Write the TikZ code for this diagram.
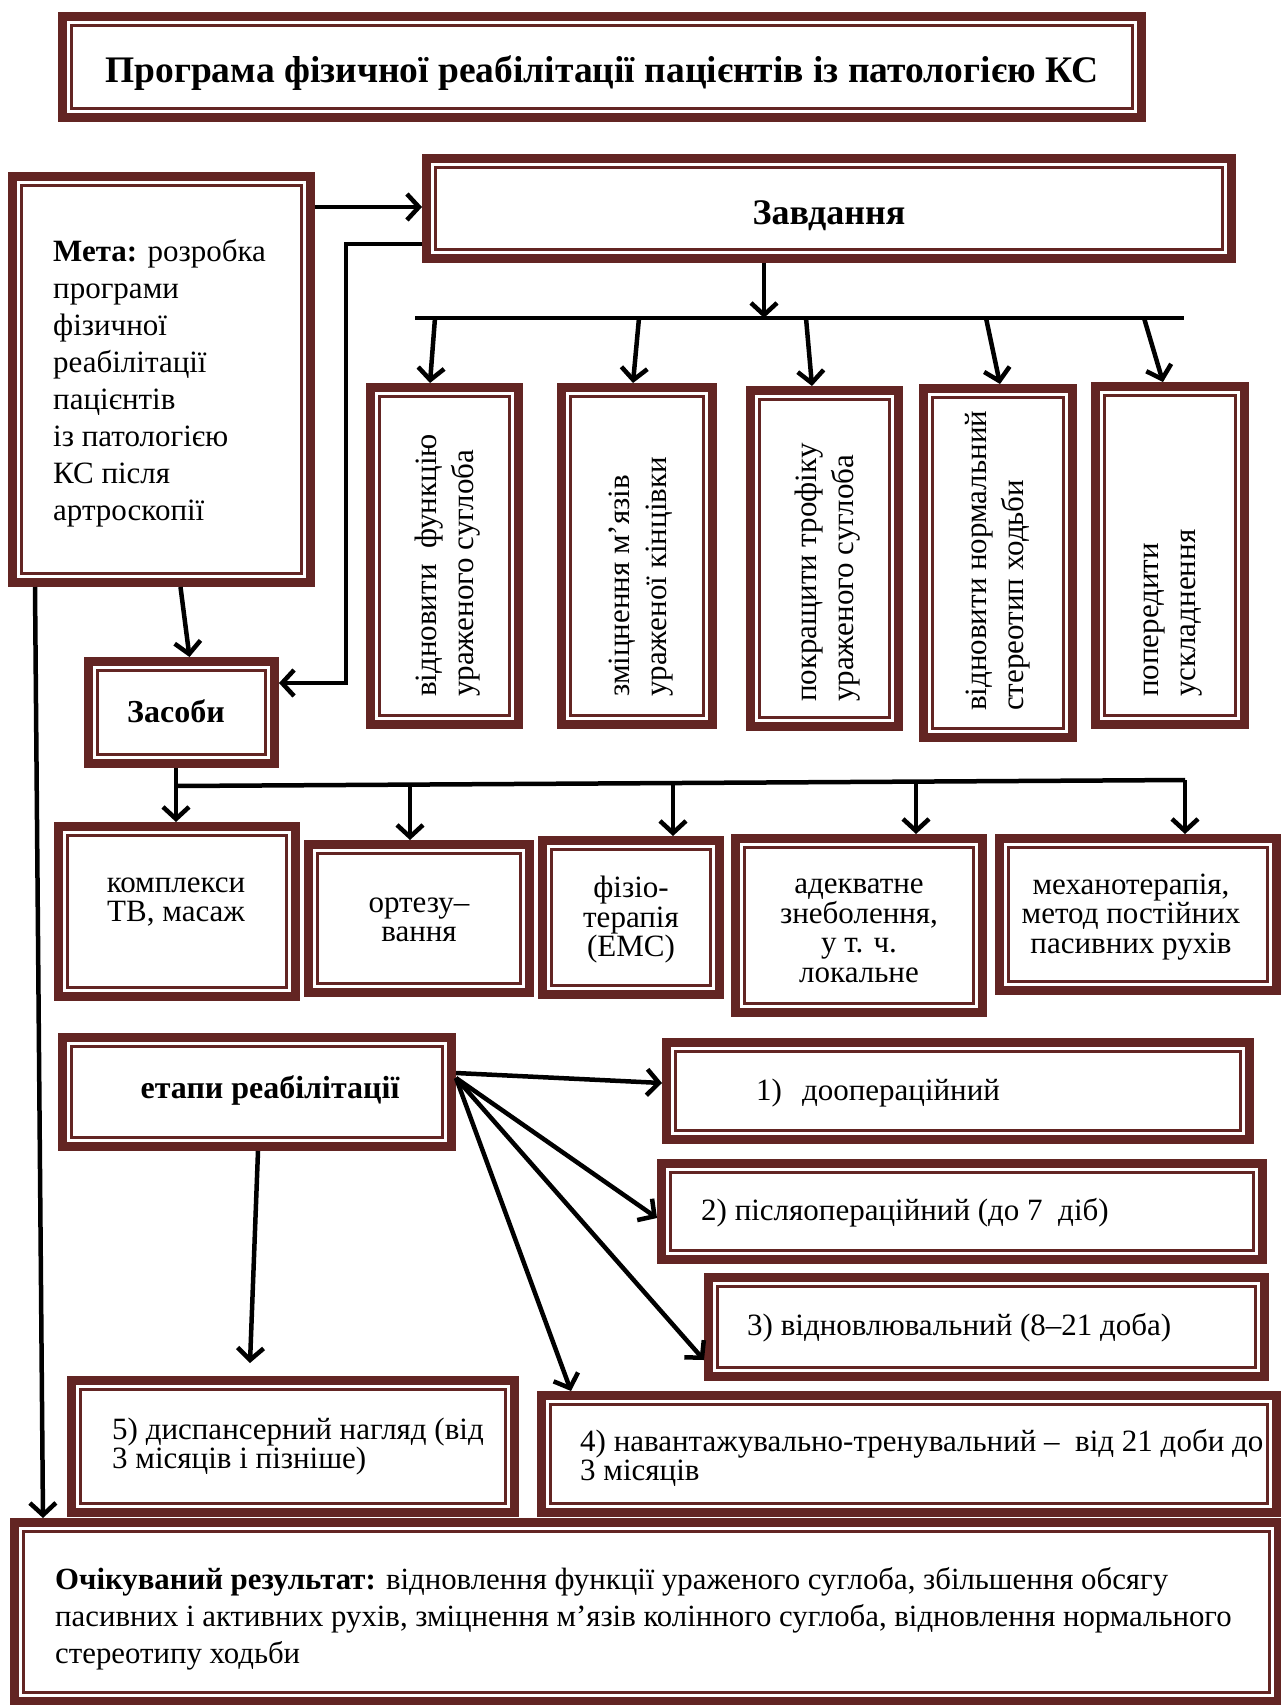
\documentclass[tikz,border=0pt]{standalone}
\usepackage{fontspec}
\setmainfont{Liberation Serif}
\usetikzlibrary{arrows.meta,fit}
\definecolor{wine}{RGB}{99,37,35}
\tikzset{
  box/.style={draw=wine, line width=9pt, fill=white, inner sep=-4.5pt,
    path picture={\draw[wine, line width=2.5pt]
      ([shift={(9pt,-9pt)}]path picture bounding box.north west) rectangle
      ([shift={(-9pt,9pt)}]path picture bounding box.south east);}},
  txt/.style={inner sep=0pt, align=left, font=\fontsize{31pt}{37pt}\selectfont},
  ctr/.style={inner sep=0pt, align=center, font=\fontsize{31pt}{29.5pt}\selectfont},
  hd/.style={inner sep=0pt, font=\fontsize{32pt}{36pt}\selectfont\bfseries},
  ln/.style={line width=4.5pt},
  arr/.style={line width=4.5pt, -{Straight Barb[length=12pt,width=26pt]}},
}
\begin{document}
\begin{tikzpicture}[x=1pt, y=-1pt]
\useasboundingbox (0,0) rectangle (1281,1705);
% head, goal, tasks
\node[box, fit={(58,12) (1146,122)}] (title) {};
\node[hd, font=\fontsize{37.5pt}{44pt}\selectfont\bfseries] (titlet) at (602,73) {Програма фізичної реабілітації пацієнтів із патологією КС};
\node[box, fit={(8,172) (315,587)}] (meta) {};
\node[txt, anchor=west] (metat) at (53,383) {\textbf{Мета:} розробка\\програми\\фізичної\\реабілітації\\пацієнтів\\із патологією\\КС після\\артроскопії};
\node[box, fit={(422,154) (1236,263)}] (zav) {};
\node[hd, font=\fontsize{36pt}{40pt}\selectfont\bfseries] (zavt) at (829,216) {Завдання};
\node[box, fit={(366,383) (523,729)}] (v1) {};
\node[box, fit={(557,383) (717,729)}] (v2) {};
\node[box, fit={(746,386) (903,731)}] (v3) {};
\node[box, fit={(919,384) (1077,742)}] (v4) {};
\node[box, fit={(1091,382) (1249,729)}] (v5) {};
\node[txt, rotate=90, anchor=west] (v1t) at (448,697) {відновити\ \ функцію\\ураженого суглоба};
\node[txt, rotate=90, anchor=west] (v2t) at (641,697) {зміцнення м’язів\\ураженої кінцівки};
\node[txt, rotate=90, anchor=west] (v3t) at (828,702) {покращити трофіку\\ураженого суглоба};
\node[txt, rotate=90, anchor=west] (v4t) at (998,711) {відновити нормальний\\стереотип ходьби};
\node[txt, rotate=90, anchor=west] (v5t) at (1173,697) {попередити\\ускладнення};
% means
\node[box, fit={(84,657) (279,768)}] (zasoby) {};
\node[hd] (zasobyt) at (176,711) {Засоби};
\node[box, fit={(54,822) (300,1001)}] (ka) {};
\node[box, fit={(304,840) (534,997)}] (ort) {};
\node[box, fit={(538,836) (724,999)}] (fiz) {};
\node[box, fit={(731,834) (987,1017)}] (zneb) {};
\node[box, fit={(995,834) (1281,995)}] (mex) {};
\node[ctr] (kat) at (176,902) {комплекси\\ТВ, масаж};
\node[ctr] (ortt) at (419,920) {ортезу–\\вання};
\node[ctr] (fizt) at (631,920) {фізіо-\\терапія\\(ЕМС)};
\node[ctr] (znebt) at (859,931) {адекватне\\знеболення,\\у т. ч.\\локальне};
\node[ctr] (mext) at (1131,917) {механотерапія,\\метод постійних\\пасивних рухів};
% stages
\node[box, fit={(58,1033) (456,1151)}] (etapy) {};
\node[hd] (etapyt) at (270,1090) {етапи реабілітації};
\node[box, fit={(662,1038) (1254,1144)}] (st1) {};
\node[box, fit={(657,1159) (1267,1264)}] (st2) {};
\node[box, fit={(704,1273) (1269,1381)}] (st3) {};
\node[box, fit={(537,1391) (1281,1517)}] (st4) {};
\node[box, fit={(67,1376) (519,1517)}] (st5) {};
\node[txt, anchor=west] (st1t) at (756,1093) {1)\hspace{20pt}доопераційний};
\node[txt, anchor=west] (st2t) at (701,1213) {2) післяопераційний (до 7\ \ діб)};
\node[txt, anchor=west] (st3t) at (747,1328) {3) відновлювальний (8–21 доба)};
\node[txt, anchor=west, font=\fontsize{31pt}{29pt}\selectfont] (st4t) at (580,1458) {4) навантажувально-тренувальний –\ \ від 21 доби до\\3 місяців};
\node[txt, anchor=west, font=\fontsize{31pt}{29pt}\selectfont] (st5t) at (112,1447) {5) диспансерний нагляд (від\\3 місяців і пізніше)};
% result
\node[box, fit={(10,1518) (1283,1706)}] (res) {};
\node[txt, anchor=west, font=\fontsize{30.8pt}{37pt}\selectfont] (rest) at (55,1619) {\textbf{Очікуваний результат:} відновлення функції ураженого суглоба, збільшення обсягу\\пасивних і активних рухів, зміцнення м’язів колінного суглоба, відновлення нормального\\стереотипу ходьби};
% connectors
\draw[arr] (meta.east |- 0,207) -- (zav.west |- 0,207);
\draw[arr] (zav.west |- 0,244) -- (346,244) -- (346,683) -- (zasoby.east |- 0,683);
\draw[arr] ([xshift=19pt]meta.south) -- ([xshift=8pt]zasoby.north);
\draw[arr] ([xshift=27pt]meta.south west) -- ([xshift=33pt]res.north west);
\draw[ln] (415,318) -- (1184,318);
\draw[arr] (764,0 |- zav.south) -- (764,318);
\foreach \i/\a/\b in {1/435/430,2/639/633,3/806/812,4/986/1000,5/1144/1163}
  \draw[arr] (\a,318) -- (\b,0 |- v\i.north);
\draw[ln] (176,786) -- (1185,780);
\draw[arr] (176,0 |- zasoby.south) -- (176,0 |- ka.north);
\foreach \n/\a/\y in {ort/410/784.6,fiz/673/783,zneb/916/781.6,mex/1185/780}
  \draw[arr] (\a,\y) -- (\a,0 |- \n.north);
\draw[arr] (etapy.east |- 0,1073) -- (st1.west |- 0,1083);
\draw[arr] (etapy.east |- 0,1078) -- (st2.west |- 0,1218);
\draw[arr] (etapy.east |- 0,1078) -- (st3.west |- 0,1360);
\draw[arr] (etapy.east |- 0,1078) -- (571,0 |- st4.north);
\coordinate (s5in) at (250,1363);
\draw[arr] (258,0 |- etapy.south) -- (s5in);
\end{tikzpicture}
\end{document}
